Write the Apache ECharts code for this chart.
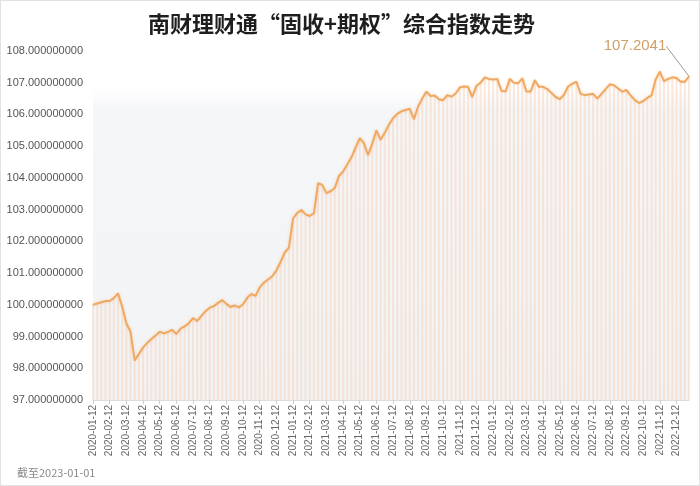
<!DOCTYPE html>
<html>
<head>
<meta charset="utf-8">
<script src="https://cdn.jsdelivr.net/npm/echarts@6/dist/echarts.min.js"></script>
<style>
html,body{margin:0;padding:0;background:#fff;}
#wrap{position:relative;width:700px;height:486px;}
#c{width:700px;height:486px;}
#frame{position:absolute;left:0;top:0;width:700px;height:486px;box-sizing:border-box;border:1px solid #e2e2e2;pointer-events:none;}
</style>
</head>
<body>
<div id="wrap"><div id="c"></div><div id="frame"></div></div>
<script>
// Months shown on the axis (each month has four observations: 12, 19, 26, 05 of next month)
const months = [
  '2020-01','2020-02','2020-03','2020-04','2020-05','2020-06','2020-07','2020-08','2020-09','2020-10','2020-11','2020-12',
  '2021-01','2021-02','2021-03','2021-04','2021-05','2021-06','2021-07','2021-08','2021-09','2021-10','2021-11','2021-12',
  '2022-01','2022-02','2022-03','2022-04','2022-05','2022-06','2022-07','2022-08','2022-09','2022-10','2022-11','2022-12'
];
const lastDate = '2023-01-01';

// Index values
const indexValues = [
  100.00,100.04,100.08,100.12,100.12,100.21,100.36,99.95,99.42,99.15,
  98.25,98.45,98.65,98.80,98.92,99.03,99.15,99.10,99.15,99.21,
  99.08,99.25,99.32,99.42,99.58,99.49,99.65,99.80,99.91,99.96,
  100.06,100.15,100.03,99.93,99.98,99.92,100.02,100.22,100.34,100.28,
  100.55,100.70,100.80,100.90,101.08,101.35,101.65,101.80,102.72,102.90,
  102.99,102.85,102.80,102.88,103.83,103.78,103.52,103.58,103.68,104.06,
  104.20,104.42,104.65,104.95,105.25,105.10,104.72,105.08,105.50,105.20,
  105.42,105.68,105.88,106.02,106.10,106.14,106.18,105.85,106.25,106.50,
  106.72,106.58,106.60,106.48,106.45,106.61,106.56,106.66,106.85,106.88,
  106.87,106.55,106.90,107.00,107.17,107.12,107.10,107.12,106.75,106.72,
  107.12,107.00,106.98,107.14,106.72,106.72,107.08,106.87,106.87,106.80,
  106.68,106.55,106.48,106.62,106.88,106.97,107.03,106.65,106.61,106.63,
  106.65,106.50,106.65,106.80,106.95,106.92,106.82,106.72,106.77,106.60,
  106.45,106.36,106.42,106.52,106.60,107.10,107.35,107.05,107.12,107.17,
  107.15,107.03,107.03,107.2041
];

const yTicks = {min: 97, max: 108, interval: 1};
const titleText = '南财理财通“固收+期权”综合指数走势';
const noteText = '截至2023-01-01';

// build categories
const categories = [];
months.forEach((m, k) => {
  categories.push(m + '-12', m + '-19', m + '-26');
  if (k < months.length - 1) categories.push(months[k + 1] + '-05');
  else categories.push(lastDate);
});

const lastIdx = indexValues.length - 1;
const lineData = indexValues.map((v, i) => i === lastIdx ? {
  value: v,
  label: {
    show: true, position: 'top', distance: 4,
    formatter: () => v.toFixed(4),
    color: '#cf9f66', fontSize: 15, fontFamily: 'Liberation Sans, Arial, sans-serif'
  },
  labelLine: {show: true, lineStyle: {color: '#9a9a9a', width: 1}}
} : v);

const isMonthTick = (i, val) => /-12$/.test(val);

const chart = echarts.init(document.getElementById('c'), null, {renderer: 'canvas'});
chart.setOption({
  backgroundColor: '#ffffff',
  animation: false,
  title: {
    text: titleText, left: 143, top: 8,
    textStyle: {fontSize: 22, fontWeight: 'bold', color: '#1e1e1e', fontFamily: 'Noto Sans CJK SC, sans-serif'}
  },
  graphic: [{
    type: 'text', left: 17, top: 467,
    style: {text: noteText, fill: '#8a8a8a', fontSize: 11, fontFamily: 'Noto Sans CJK SC, sans-serif'}
  }],
  grid: {
    left: 93, right: 11, top: 51, bottom: 86, show: true, borderWidth: 0,
    backgroundColor: new echarts.graphic.LinearGradient(0, 0, 0, 1, [
      {offset: 0, color: '#ffffff'},
      {offset: 0.1, color: '#ffffff'},
      {offset: 0.17, color: '#f5f6f8'},
      {offset: 1, color: '#f2f3f5'}
    ])
  },
  xAxis: {
    type: 'category', data: categories, boundaryGap: false,
    axisLine: {show: true, lineStyle: {color: '#dcdcdc'}},
    axisTick: {show: true, interval: isMonthTick, length: 4, lineStyle: {color: '#cfcfcf'}},
    axisLabel: {
      interval: isMonthTick, rotate: 90, fontSize: 10, color: '#666', margin: 5,
      fontFamily: 'Liberation Sans, Arial, sans-serif'
    },
    splitLine: {show: false}
  },
  yAxis: {
    type: 'value', min: yTicks.min, max: yTicks.max, interval: yTicks.interval,
    axisLine: {show: false}, axisTick: {show: false}, splitLine: {show: false},
    axisLabel: {
      formatter: v => v.toFixed(9), fontSize: 11, color: '#555', margin: 10,
      fontFamily: 'Liberation Sans, Arial, sans-serif'
    }
  },
  series: [{
    type: 'bar', data: indexValues, barWidth: 2, silent: true,
    itemStyle: {color: 'rgba(246, 206, 180, 0.45)'}
  }, {
    type: 'line', data: lineData, showSymbol: true, symbol: 'circle', symbolSize: 1,
    itemStyle: {color: '#f0a962'},
    lineStyle: {color: '#f0a962', width: 2, shadowColor: 'rgba(242,167,92,0.4)', shadowBlur: 3},
    labelLayout: {dx: -54, dy: -18},
    z: 3
  }]
});
</script>
</body>
</html>
